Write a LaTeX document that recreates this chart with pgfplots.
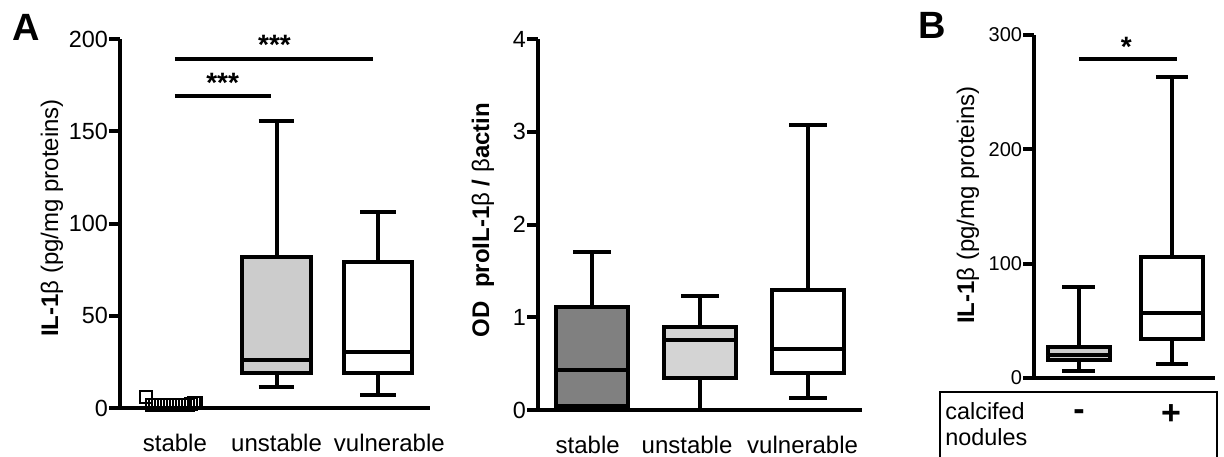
\documentclass[border=0pt]{standalone}
\usepackage{fontspec}
\setmainfont{Liberation Sans}
\usepackage{pgfplots}
\pgfplotsset{compat=1.18}
\usepgfplotslibrary{statistics}

\pgfplotsset{
  gp/.style={
    scale only axis, anchor=south west,
    axis x line*=bottom, axis y line*=left,
    axis line style={line width=2pt},
    ytick style={line width=2pt, black},
    xtick style={draw=none},
    tick align=outside, major tick length=5.5pt,
    minor tick num=0,
    boxplot/draw direction=y,
    clip=false, ymin=0,
    /pgf/number format/assume math mode=true,
    xticklabel style={font=\fontsize{12}{14}\selectfont, yshift=-4pt},
  },
  bx/.style={draw=black, line width=2pt},
}

\begin{document}
\begin{tikzpicture}
\useasboundingbox (0,0) rectangle (612pt,228pt);

% ---------- A, left: IL-1b ----------
\begin{axis}[gp, at={(60pt,24pt)}, width=155pt, height=184.5pt,
  xmin=-0.54, xmax=2.51, ymax=200,
  ytick={0,50,100,150,200},
  yticklabel style={scale=1.17, inner sep=0.3pt},
  xtick={0,1,2.11}, xticklabels={stable,unstable,vulnerable},
]
\addplot[only marks, mark=square, mark size=3pt, mark options={line width=1pt}]
  coordinates {(-0.28,6) (-0.23,1.5) (-0.20,1.5) (-0.17,1.5) (-0.14,1.5) (-0.11,1.5)
  (-0.08,1.5) (-0.05,1.5) (-0.02,1.5) (0.01,1.5) (0.04,1.5) (0.07,1.5) (0.10,1.5)
  (0.13,1.5) (0.16,2) (0.19,2.5) (0.21,2.5)};
\addplot[bx, fill=black!20, boxplot prepared={draw position=1,
  lower whisker=11.4, lower quartile=19, median=26, upper quartile=82,
  upper whisker=155.5, box extend=0.67, whisker extend=0.35}] coordinates {};
\addplot[bx, fill=white, boxplot prepared={draw position=2,
  lower whisker=7, lower quartile=19, median=30.6, upper quartile=79,
  upper whisker=106, box extend=0.67, whisker extend=0.35}] coordinates {};
% significance bars
\addplot[black, line width=2pt] coordinates {(0,189) (1.95,189)};
\addplot[black, line width=2pt] coordinates {(0,169) (0.95,169)};
\node[font=\fontsize{14}{15}\selectfont\bfseries] at (axis cs:0.98,197) {***};
\node[font=\fontsize{14}{15}\selectfont\bfseries] at (axis cs:0.47,176) {***};
\end{axis}

% ---------- A, right: proIL-1b / b-actin ----------
\begin{axis}[gp, at={(269pt,23pt)}, width=162pt, height=185.5pt,
  xmin=-0.5, xmax=2.5, ymax=4,
  ytick={0,1,2,3,4},
  yticklabel style={scale=1.17, inner sep=0.3pt},
  xtick={-0.04,0.88,1.95}, xticklabels={stable,unstable,vulnerable},
]
\addplot[bx, fill=black!50, boxplot prepared={draw position=0,
  lower whisker=0.01, lower quartile=0.04, median=0.43, upper quartile=1.11,
  upper whisker=1.70, box extend=0.67, whisker extend=0.35}] coordinates {};
\addplot[bx, fill=black!17, boxplot prepared={draw position=1,
  lower whisker=0, lower quartile=0.35, median=0.76, upper quartile=0.90,
  upper whisker=1.23, box extend=0.67, whisker extend=0.35}] coordinates {};
\addplot[bx, fill=white, boxplot prepared={draw position=2,
  lower whisker=0.13, lower quartile=0.40, median=0.66, upper quartile=1.29,
  upper whisker=3.07, box extend=0.67, whisker extend=0.35}] coordinates {};
\end{axis}

% ---------- B: calcified nodules ----------
\begin{axis}[gp, at={(517pt,39pt)}, width=90.5pt, height=171.5pt,
  xmin=-0.48, xmax=1.46, ymax=300,
  ytick={0,100,200,300},
  yticklabel style={scale=1.0, inner sep=0.3pt},
  xtick=\empty,
]
\addplot[bx, fill=black!20, boxplot prepared={draw position=0,
  lower whisker=6, lower quartile=16, median=20, upper quartile=27,
  upper whisker=80, box extend=0.67, whisker extend=0.35}] coordinates {};
\addplot[bx, fill=white, boxplot prepared={draw position=1,
  lower whisker=12, lower quartile=34, median=57, upper quartile=106,
  upper whisker=263, box extend=0.67, whisker extend=0.35}] coordinates {};
\addplot[black, line width=2pt] coordinates {(0,279) (1.05,279)};
\node[font=\fontsize{14}{15}\selectfont\bfseries] at (axis cs:0.51,290) {*};
\end{axis}

% panel letters and axis titles
\node[font=\fontsize{19}{20}\selectfont\bfseries] at (13pt,214.5pt) {A};
\node[font=\fontsize{19}{20}\selectfont\bfseries] at (466pt,215.5pt) {B};
\node[rotate=90, font=\fontsize{12}{14}\selectfont] at (26pt,119pt)
  {\textbf{IL-1}β (pg/mg proteins)};
\node[rotate=90, font=\fontsize{12}{14}\selectfont] at (241.5pt,118pt)
  {\textbf{OD\ \ proIL-1}β\textbf{ / }β\textbf{actin}};
\node[rotate=90, font=\fontsize{12}{14}\selectfont] at (484pt,125.5pt)
  {\textbf{IL-1}β (pg/mg proteins)};

% table under B
\draw[line width=0.9pt] (470pt,-10pt) rectangle (608.5pt,32.2pt);
\node[anchor=base west, font=\fontsize{11.7}{13}\selectfont, inner sep=0pt] at (472.5pt,18.5pt) {calcifed};
\node[anchor=base west, font=\fontsize{11.7}{13}\selectfont, inner sep=0pt] at (472.5pt,5.5pt) {nodules};
\node[font=\fontsize{17}{18}\selectfont\bfseries] at (539.5pt,20.5pt) {-};
\node[font=\fontsize{17}{18}\selectfont\bfseries] at (585.5pt,20.5pt) {+};
\end{tikzpicture}
\end{document}
